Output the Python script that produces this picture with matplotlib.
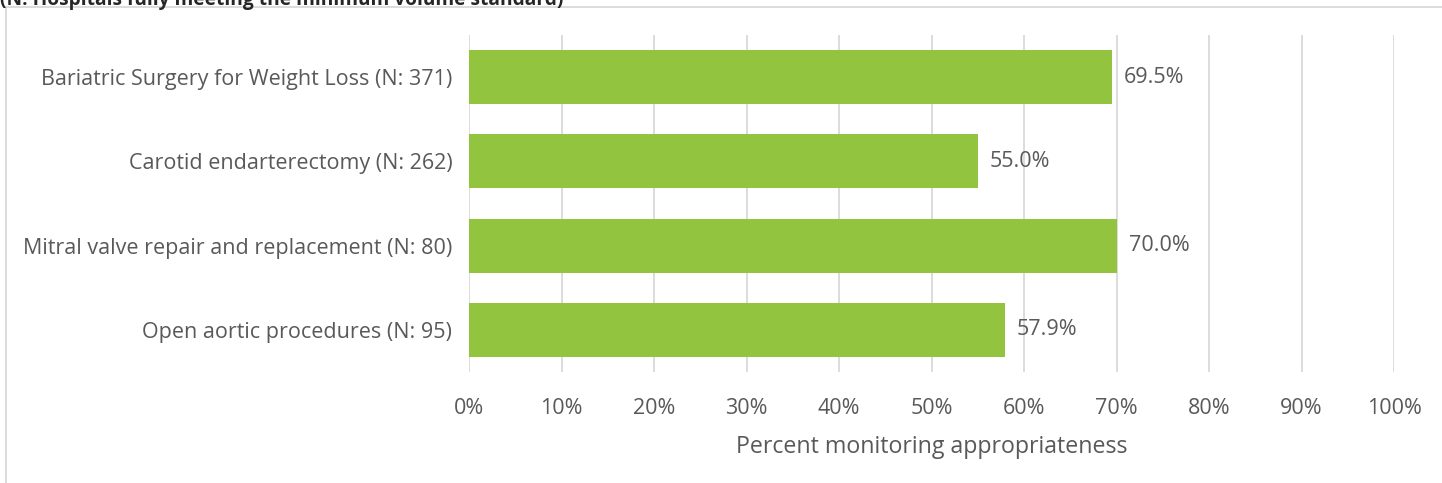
import matplotlib.pyplot as plt
from matplotlib.lines import Line2D

categories = ['Bariatric Surgery for Weight Loss (N: 371)',
              'Carotid endarterectomy (N: 262)',
              'Mitral valve repair and replacement (N: 80)',
              'Open aortic procedures (N: 95)']
values = [69.5, 55.0, 70.0, 57.9]
xticks = [0, 10, 20, 30, 40, 50, 60, 70, 80, 90, 100]

plt.rcParams['font.family'] = ['Open Sans', 'DejaVu Sans']
text_color = '#595959'
grid_color = '#D9D9D9'
bar_color = '#92C43F'

W, H = 1442, 483
fig = plt.figure(figsize=(W / 100, H / 100), dpi=100)
ax = fig.add_axes([469 / W, (H - 372) / H, (1394 - 469) / W, (372 - 35) / H])

y = list(range(len(categories)))
ax.barh(y, values, height=0.64, color=bar_color, zorder=3)
for yi, v in zip(y, values):
    ax.text(v + 1.3, yi, f'{v:.1f}%', va='center', ha='left', fontsize=15.5, color=text_color)

ax.set_ylim(len(categories) - 0.5, -0.5)
ax.set_xlim(0, 100)
ax.set_yticks(y)
ax.set_yticklabels(categories, fontsize=15.5, color=text_color)
ax.tick_params(length=0, pad=12)
ax.set_xticks(xticks)
ax.set_xticklabels([f'{t}%' for t in xticks], fontsize=15.5, color=text_color)
ax.tick_params(axis='x', pad=19)
ax.xaxis.grid(True, color=grid_color, linewidth=1.3, zorder=0)
for s in ax.spines.values():
    s.set_visible(False)
ax.set_xlabel('Percent monitoring appropriateness', fontsize=16.7, color=text_color, labelpad=11)

# chart frame (partly outside the image)
fig.add_artist(Line2D([6 / W, 6 / W], [0, 1 - 7 / H], transform=fig.transFigure, color=grid_color, lw=1.3))
fig.add_artist(Line2D([6 / W, 1], [1 - 7 / H, 1 - 7 / H], transform=fig.transFigure, color=grid_color, lw=1.3))

fig.text(0.0, 1 - 5 / H, '(N: Hospitals fully meeting the minimum volume standard)',
         fontsize=13.8, fontweight='bold', color='#262626', va='baseline', ha='left')

fig.savefig('out.png', dpi=100)
